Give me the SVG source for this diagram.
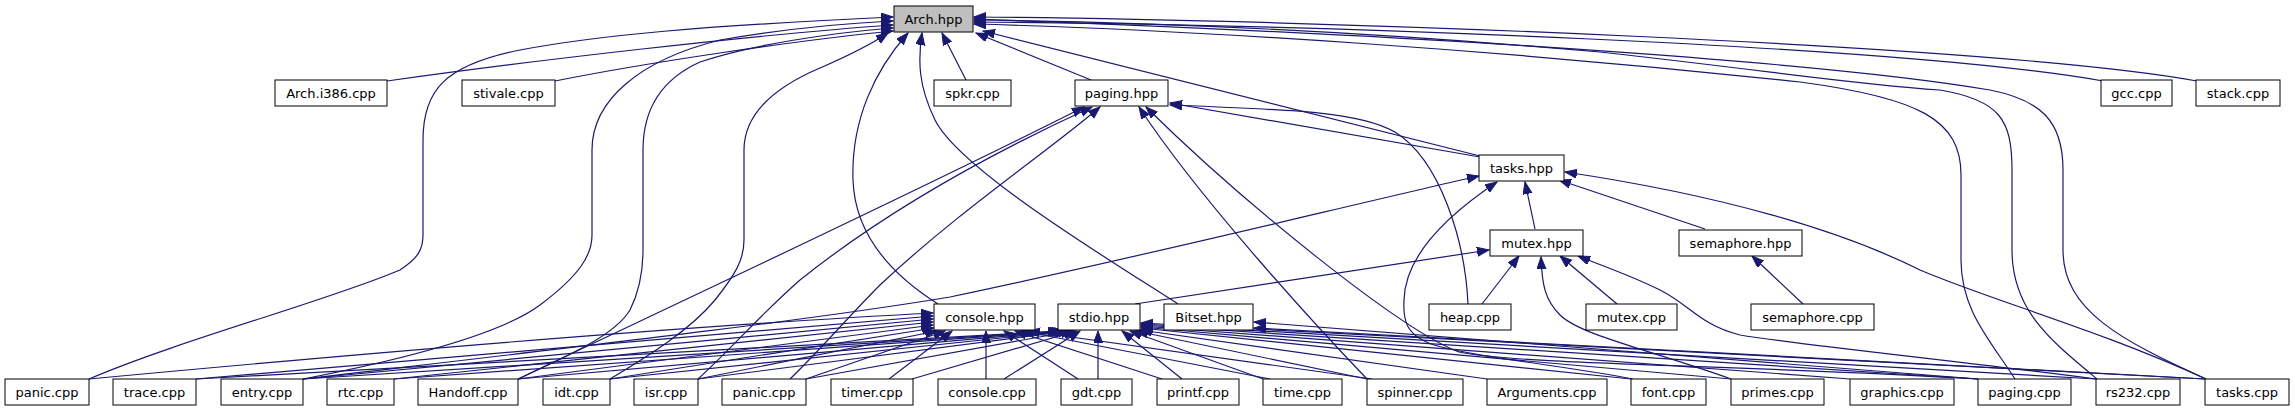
<svg xmlns="http://www.w3.org/2000/svg" width="2295" height="411" viewBox="0 0 2295 411">
<style>
.n rect{fill:#fff;stroke:#000;stroke-width:1}
.n.g rect{fill:#bfbfbf}
.n text{font-family:"DejaVu Sans","Liberation Sans",sans-serif;font-size:13px;text-anchor:middle;fill:#000}
#edges path{fill:none;stroke:#191970;stroke-width:1.2;marker-end:url(#ah)}
</style>
<defs>
<marker id="ah" markerUnits="userSpaceOnUse" markerWidth="13" markerHeight="10" refX="12" refY="4.5" orient="auto">
<path d="M0,0 L12,4.5 L0,9 z" fill="#191970" stroke="#191970" stroke-width="1"/>
</marker>
</defs>
<rect width="2295" height="411" fill="#fff"/>
<g id="edges">
<!-- to Arch.hpp -->
<path d="M387,81 C520,62 760,34 893,25"/>
<path d="M555,81 C650,62 800,40 893,31"/>
<path d="M966,80 L942,33"/>
<path d="M1091,80 L976,33"/>
<path d="M1480,156 L983,31"/>
<path d="M2103,81 C1900,45 1300,24 974,22"/>
<path d="M2197,81 C2000,45 1300,19 974,17"/>
<path d="M938,304 C900,280 855,240 853,180 C851,120 875,70 908,33"/>
<path d="M1178,304 C1110,260 960,170 935,120 C918,85 918,60 922,33"/>
<path d="M89,379 C180,340 330,300 400,270 C418,258 423,250 423,235 L423,140 C423,90 445,65 520,50 C600,35 700,26 893,17"/>
<path d="M303,379 C400,360 500,335 540,305 C580,275 592,255 592,235 L592,150 C592,100 640,60 720,40 C790,28 850,23 893,21"/>
<path d="M518,379 C570,355 615,335 630,310 C640,290 643,270 643,250 L643,150 C643,110 660,80 700,62 C750,45 830,33 893,28"/>
<path d="M610,379 C650,355 690,330 715,300 C735,275 744,260 744,240 L744,150 C744,110 780,85 820,68 C850,55 870,45 888,33"/>
<path d="M2015,379 C1990,340 1961,310 1961,260 L1961,175 C1961,120 1920,98 1800,82 C1500,50 1200,30 974,24"/>
<path d="M2097,379 C2050,340 2012,310 2012,250 L2012,170 C2012,120 2000,100 1940,90 C1850,84 1780,72 1600,52 C1350,30 1150,22 974,20"/>
<path d="M2206,379 C2120,340 2063,310 2063,250 L2063,170 C2063,120 2040,100 1990,90 C1850,66 1500,38 974,19"/>
<!-- to paging.hpp -->
<path d="M1480,157 L1170,103"/>
<path d="M1468,304 C1465,240 1440,160 1395,132 C1360,112 1300,110 1170,105"/>
<path d="M518,379 C620,330 900,200 1084,107"/>
<path d="M698,379 C730,350 760,315 800,280 C900,200 1020,140 1092,107"/>
<path d="M790,379 C820,350 850,315 880,285 C960,210 1050,150 1100,107"/>
<path d="M1367,379 C1320,330 1200,200 1139,107"/>
<path d="M1978,379 C1750,365 1520,365 1459,352 C1400,330 1240,200 1146,107"/>
<!-- to tasks.hpp -->
<path d="M1535,229 L1525,182"/>
<path d="M1705,229 L1559,180"/>
<path d="M2206,379 C2100,330 1990,300 1920,270 C1840,230 1720,195 1565,172"/>
<path d="M303,379 C550,350 800,322 950,297 C1150,255 1350,205 1479,176"/>
<path d="M1633,379 C1560,365 1480,358 1434,345 C1405,335 1403,320 1404,300 C1405,260 1440,220 1497,182"/>
<!-- to mutex.hpp -->
<path d="M1135,304 L1489,250"/>
<path d="M1482,304 L1519,256"/>
<path d="M1617,304 L1560,256"/>
<path d="M1731,379 C1650,350 1580,335 1560,315 C1545,300 1542,285 1541,257"/>
<path d="M2096,379 C1950,360 1800,345 1740,335 C1700,325 1690,305 1660,290 C1630,275 1600,265 1578,256"/>
<!-- to semaphore.hpp -->
<path d="M1803,304 L1752,256"/>
<!-- to Bitset.hpp -->
<path d="M1978,379 L1254,322"/>
<path d="M2205,379 L1254,328"/>
<!-- to console.hpp -->
<path d="M89,379 C400,350 700,325 933,313"/>
<path d="M196,379 L933,316"/>
<path d="M303,379 L933,319"/>
<path d="M394,379 L933,322"/>
<path d="M518,379 L933,325"/>
<path d="M610,379 L934,328"/>
<path d="M698,379 L937,331"/>
<path d="M806,379 L945,331"/>
<path d="M889,379 L952,331"/>
<path d="M986,379 L986,331"/>
<path d="M1078,379 L1004,331"/>
<path d="M1162,379 L1015,331"/>
<path d="M1270,379 L1022,331"/>
<path d="M1372,379 L1028,331"/>
<!-- to stdio.hpp -->
<path d="M196,379 L1060,331"/>
<path d="M303,379 L1062,331"/>
<path d="M394,379 L1064,331"/>
<path d="M518,379 L1066,331"/>
<path d="M610,379 L1068,331"/>
<path d="M698,379 L1070,331"/>
<path d="M806,379 L1073,331"/>
<path d="M912,379 L1076,331"/>
<path d="M1004,379 L1080,331"/>
<path d="M1098,379 L1098,331"/>
<path d="M1182,379 L1122,331"/>
<path d="M1263,379 L1130,331"/>
<path d="M1367,379 L1136,331"/>
<path d="M1487,379 L1140,330"/>
<path d="M1631,379 L1141,328"/>
<path d="M1731,379 L1141,327"/>
<path d="M1850,379 L1141,326"/>
<path d="M1978,379 L1141,325"/>
<path d="M2096,379 L1141,324"/>
<path d="M2205,379 L1141,323"/>
</g>
<g id="n_arch_hpp" class="n g"><rect x="894" y="6" width="79" height="26"/><text x="933.5" y="23.5">Arch.hpp</text></g>
<g id="n_arch_i386" class="n"><rect x="275" y="80" width="112" height="26"/><text x="331" y="97.5">Arch.i386.cpp</text></g>
<g id="n_stivale" class="n"><rect x="462" y="80" width="93" height="26"/><text x="508.5" y="97.5">stivale.cpp</text></g>
<g id="n_spkr" class="n"><rect x="934" y="80" width="77" height="26"/><text x="972.5" y="97.5">spkr.cpp</text></g>
<g id="n_paging_hpp" class="n"><rect x="1075" y="80" width="93" height="26"/><text x="1121.5" y="97.5">paging.hpp</text></g>
<g id="n_gcc" class="n"><rect x="2101" y="80" width="71" height="26"/><text x="2136.5" y="97.5">gcc.cpp</text></g>
<g id="n_stack" class="n"><rect x="2196" y="80" width="84" height="26"/><text x="2238" y="97.5">stack.cpp</text></g>
<g id="n_tasks_hpp" class="n"><rect x="1479" y="155" width="85" height="26"/><text x="1521.5" y="172.5">tasks.hpp</text></g>
<g id="n_mutex_hpp" class="n"><rect x="1490" y="230" width="93" height="26"/><text x="1536.5" y="247.5">mutex.hpp</text></g>
<g id="n_semaphore_hpp" class="n"><rect x="1679" y="230" width="123" height="26"/><text x="1740.5" y="247.5">semaphore.hpp</text></g>
<g id="n_console_hpp" class="n"><rect x="934" y="304" width="101" height="26"/><text x="984.5" y="321.5">console.hpp</text></g>
<g id="n_stdio_hpp" class="n"><rect x="1058" y="304" width="82" height="26"/><text x="1099" y="321.5">stdio.hpp</text></g>
<g id="n_bitset_hpp" class="n"><rect x="1164" y="304" width="89" height="26"/><text x="1208.5" y="321.5">Bitset.hpp</text></g>
<g id="n_heap" class="n"><rect x="1429" y="304" width="82" height="26"/><text x="1470" y="321.5">heap.cpp</text></g>
<g id="n_mutex_cpp" class="n"><rect x="1586" y="304" width="91" height="26"/><text x="1631.5" y="321.5">mutex.cpp</text></g>
<g id="n_semaphore_cpp" class="n"><rect x="1751" y="304" width="123" height="26"/><text x="1812.5" y="321.5">semaphore.cpp</text></g>
<g id="n_panic1" class="n"><rect x="5" y="379" width="84" height="26"/><text x="47" y="396.5">panic.cpp</text></g>
<g id="n_trace" class="n"><rect x="113" y="379" width="83" height="26"/><text x="154.5" y="396.5">trace.cpp</text></g>
<g id="n_entry" class="n"><rect x="221" y="379" width="82" height="26"/><text x="262" y="396.5">entry.cpp</text></g>
<g id="n_rtc" class="n"><rect x="327" y="379" width="67" height="26"/><text x="360.5" y="396.5">rtc.cpp</text></g>
<g id="n_handoff" class="n"><rect x="418" y="379" width="100" height="26"/><text x="468" y="396.5">Handoff.cpp</text></g>
<g id="n_idt" class="n"><rect x="543" y="379" width="67" height="26"/><text x="576.5" y="396.5">idt.cpp</text></g>
<g id="n_isr" class="n"><rect x="634" y="379" width="64" height="26"/><text x="666" y="396.5">isr.cpp</text></g>
<g id="n_panic2" class="n"><rect x="722" y="379" width="84" height="26"/><text x="764" y="396.5">panic.cpp</text></g>
<g id="n_timer" class="n"><rect x="831" y="379" width="82" height="26"/><text x="872" y="396.5">timer.cpp</text></g>
<g id="n_console_cpp" class="n"><rect x="938" y="379" width="98" height="26"/><text x="987" y="396.5">console.cpp</text></g>
<g id="n_gdt" class="n"><rect x="1061" y="379" width="71" height="26"/><text x="1096.5" y="396.5">gdt.cpp</text></g>
<g id="n_printf" class="n"><rect x="1157" y="379" width="82" height="26"/><text x="1198" y="396.5">printf.cpp</text></g>
<g id="n_time" class="n"><rect x="1263" y="379" width="79" height="26"/><text x="1302.5" y="396.5">time.cpp</text></g>
<g id="n_spinner" class="n"><rect x="1367" y="379" width="96" height="26"/><text x="1415" y="396.5">spinner.cpp</text></g>
<g id="n_arguments" class="n"><rect x="1487" y="379" width="120" height="26"/><text x="1547" y="396.5">Arguments.cpp</text></g>
<g id="n_font" class="n"><rect x="1631" y="379" width="75" height="26"/><text x="1668.5" y="396.5">font.cpp</text></g>
<g id="n_primes" class="n"><rect x="1731" y="379" width="93" height="26"/><text x="1777.5" y="396.5">primes.cpp</text></g>
<g id="n_graphics" class="n"><rect x="1850" y="379" width="104" height="26"/><text x="1902" y="396.5">graphics.cpp</text></g>
<g id="n_paging_cpp" class="n"><rect x="1978" y="379" width="93" height="26"/><text x="2024.5" y="396.5">paging.cpp</text></g>
<g id="n_rs232" class="n"><rect x="2096" y="379" width="84" height="26"/><text x="2138" y="396.5">rs232.cpp</text></g>
<g id="n_tasks_cpp" class="n"><rect x="2205" y="379" width="84" height="26"/><text x="2247" y="396.5">tasks.cpp</text></g>
</svg>
